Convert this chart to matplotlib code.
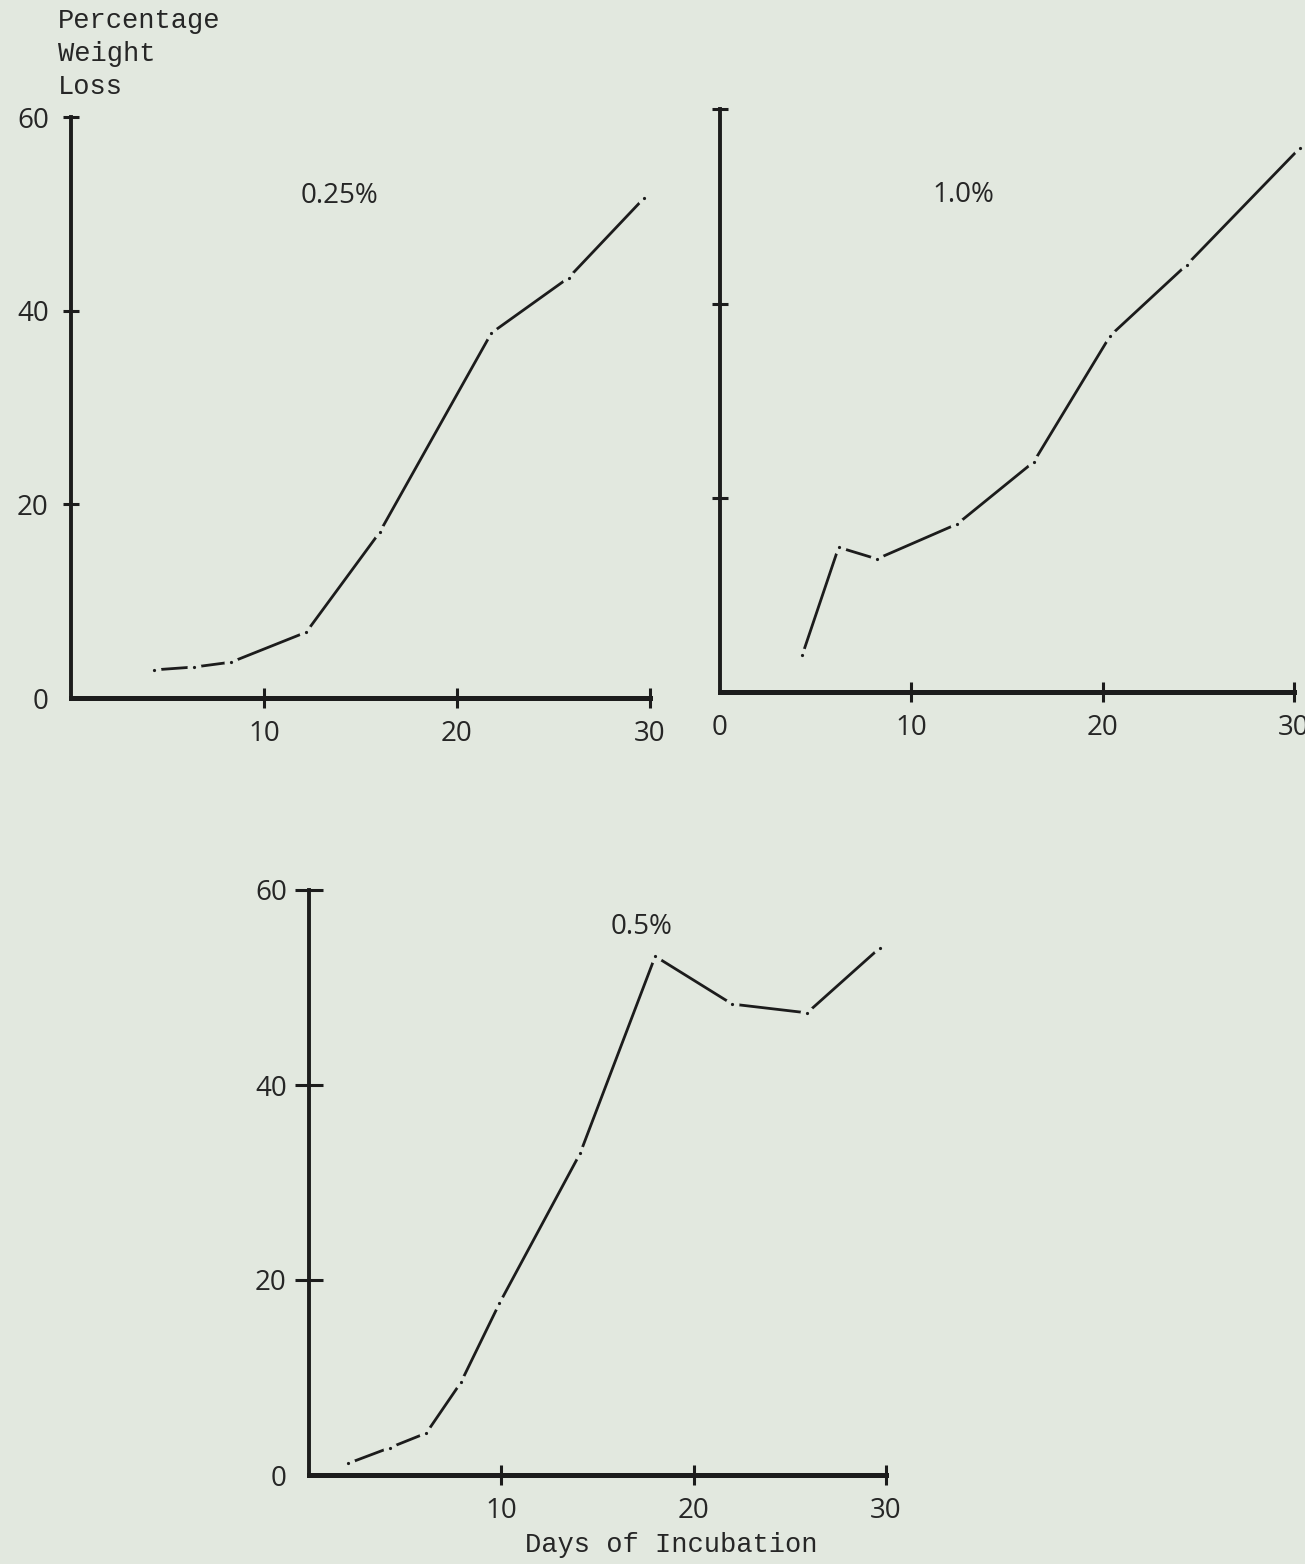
import matplotlib
matplotlib.use("Agg")
import matplotlib.pyplot as plt

# Percentage weight loss against days of incubation at three concentrations
days_025 = [4.3, 6.4, 8.3, 12.2, 16.0, 21.8, 25.8, 29.7]
loss_025 = [2.9, 3.2, 3.7, 6.8, 17.1, 37.7, 43.4, 51.6]

days_10 = [4.3, 6.2, 8.2, 12.4, 16.4, 20.4, 24.4, 30.3]
loss_10 = [3.8, 14.9, 13.7, 17.3, 23.7, 36.7, 44.0, 56.0]

days_05 = [2.05, 4.2, 6.1, 7.9, 9.9, 14.1, 18.0, 22.0, 25.9, 29.7]
loss_05 = [1.2, 2.8, 4.3, 9.5, 17.6, 33.0, 53.2, 48.3, 47.4, 54.1]

x_ticks = [0, 10, 20, 30]
y_ticks = [0, 20, 40, 60]
y_label_lines = ["Percentage", "Weight", "Loss"]
x_label = "Days of Incubation"

BG = "#e2e8df"
INK = "#1c1c1c"
TEXT = "#262626"
TYPE_FONT = ["Liberation Mono", "DejaVu Sans Mono"]
NUM_FONT = ["Open Sans", "DejaVu Sans"]
NUM_SIZE = 20

W, H = 1305, 1564
fig = plt.figure(figsize=(W / 100, H / 100), dpi=100, facecolor=BG)


def px_axes(x0, x1, y_top, y_bottom):
    """Axes whose data box spans the given pixel extents."""
    return fig.add_axes([x0 / W, 1 - y_bottom / H, (x1 - x0) / W, (y_bottom - y_top) / H])


def style(ax, xticks, xlabels, yticks, ylabels, ytick_len, xtick_len, ypad):
    ax.set_facecolor("none")
    ax.set_xlim(0, 30)
    ax.set_ylim(0, 60)
    for s in ("top", "right"):
        ax.spines[s].set_visible(False)
    ax.spines["left"].set_linewidth(2.8)
    ax.spines["bottom"].set_linewidth(3.6)
    ax.spines["left"].set_color(INK)
    ax.spines["bottom"].set_color(INK)
    ax.set_xticks(xticks)
    ax.set_xticklabels(xlabels)
    ax.set_yticks(yticks)
    ax.set_yticklabels(ylabels)
    ax.tick_params(axis="x", direction="inout", length=xtick_len, width=2.2,
                   color=INK, pad=8, labelsize=NUM_SIZE, labelcolor=TEXT)
    ax.tick_params(axis="y", direction="inout", length=ytick_len, width=2.2,
                   color=INK, pad=ypad, labelsize=NUM_SIZE, labelcolor=TEXT)
    for lab in ax.get_xticklabels() + ax.get_yticklabels():
        lab.set_family(NUM_FONT)
    # no tick mark at the origin
    for t in ax.xaxis.get_major_ticks() + ax.yaxis.get_major_ticks():
        if t.get_loc() == 0:
            t.tick1line.set_visible(False)
            t.tick2line.set_visible(False)


def curve(ax, x, y):
    ax.plot(x, y, color=INK, lw=2.0, solid_capstyle="butt", clip_on=False,
            marker="o", markersize=6.2, markerfacecolor=INK,
            markeredgecolor=BG, markeredgewidth=3.8, zorder=3)


# 0.25 %
ax1 = px_axes(71, 649.6, 117, 698)
style(ax1, [10, 20, 30], ["10", "20", "30"], y_ticks, [str(v) for v in y_ticks], 12, 15, 10)
curve(ax1, days_025, loss_025)
ax1.text(13.9, 51.8, "0.25%", fontsize=NUM_SIZE, family=NUM_FONT, color=TEXT,
         ha="center", va="center")

# 1.0 %
ax2 = px_axes(720, 1294, 109.3, 692)
style(ax2, x_ticks, [str(v) for v in x_ticks], [20, 40, 60], [], 12, 15, 10)
curve(ax2, days_10, loss_10)
ax2.text(12.7, 51.2, "1.0%", fontsize=NUM_SIZE, family=NUM_FONT, color=TEXT,
         ha="center", va="center")

# 0.5 %
ax3 = px_axes(309, 886, 890, 1475)
style(ax3, [10, 20, 30], ["10", "20", "30"], y_ticks, [str(v) for v in y_ticks], 20, 15, 6)
curve(ax3, days_05, loss_05)
ax3.text(17.3, 56.2, "0.5%", fontsize=NUM_SIZE, family=NUM_FONT, color=TEXT,
         ha="center", va="center")

# typed axis titles
for i, line in enumerate(y_label_lines):
    fig.text(58 / W, 1 - (21 + 33 * i) / H, line, fontsize=19.5, family=TYPE_FONT,
             color=TEXT, ha="left", va="center")
fig.text(671 / W, 1 - 1545 / H, x_label, fontsize=19.5, family=TYPE_FONT,
         color=TEXT, ha="center", va="center")

fig.savefig("out.png", dpi=100, facecolor=BG)
